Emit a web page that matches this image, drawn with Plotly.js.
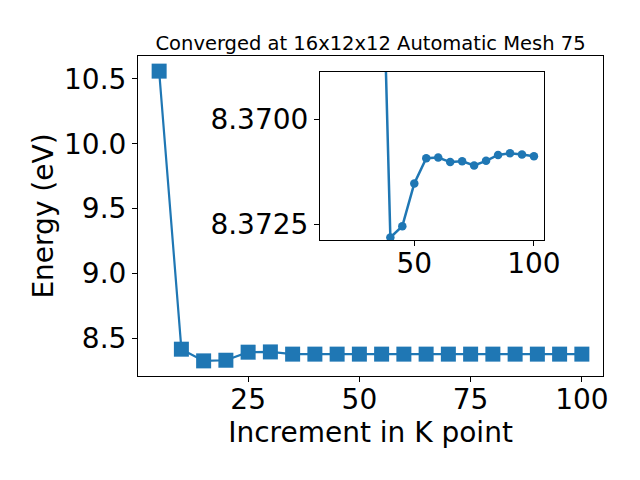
<!DOCTYPE html>
<html>
<head>
<meta charset="utf-8">
<script src="https://cdn.plot.ly/plotly-3.0.1.min.js"></script>
<style>html,body{margin:0;padding:0;background:#fff;}#chart{width:640px;height:480px;}</style>
</head>
<body>
<div id="chart"></div>
<script>
const kPoints = [5,10,15,20,25,30,35,40,45,50,55,60,65,70,75,80,85,90,95,100];
const energy = [10.559,8.418,8.328,8.333,8.395,8.397,8.380,8.380,8.380,8.380,8.380,8.380,8.380,8.380,8.380,8.380,8.380,8.380,8.380,8.380];
const insetK = [35,40,45,50,55,60,65,70,75,80,85,90,95,100];
const insetE = [8.3621,8.37282,8.37255,8.37153,8.37093,8.37091,8.37102,8.37100,8.37110,8.37099,8.37085,8.37081,8.37084,8.37088];
const mainXTicks = [25,50,75,100];
const mainYTicks = [8.5,9.0,9.5,10.0,10.5];
const insetXTicks = [50,100];
const insetYTicks = [8.3700,8.3725];
const titleText = 'Converged at 16x12x12 Automatic Mesh 75';

const blue = '#1f77b4';
const font = 'DejaVu Sans, sans-serif';

const traces = [
  {x: kPoints, y: energy, type: 'scatter', mode: 'lines+markers',
   line: {color: blue, width: 2.2}, marker: {symbol: 'square', size: 15, color: blue},
   xaxis: 'x', yaxis: 'y', showlegend: false},
  {x: insetK, y: insetE, type: 'scatter', mode: 'lines+markers',
   line: {color: blue, width: 2.5}, marker: {symbol: 'circle', size: 8.5, color: blue},
   xaxis: 'x2', yaxis: 'y2', showlegend: false}
];

const axCommon = {showline: true, linecolor: '#000', linewidth: 1, mirror: true,
  ticks: 'outside', ticklen: 5, tickwidth: 1, tickcolor: '#000', showgrid: false,
  zeroline: false, tickfont: {family: font, size: 28, color: '#000'}};

const layout = {
  width: 640, height: 480,
  margin: {l: 138, r: 37, t: 56, b: 104},
  paper_bgcolor: '#fff', plot_bgcolor: '#fff',
  title: {text: titleText, font: {family: font, size: 19.5, color: '#000'},
          x: 0.579, xanchor: 'center', y: 0.896, yanchor: 'bottom'},
  xaxis: Object.assign({}, axCommon, {range: [0.25, 104.75], tickmode: 'array', tickvals: mainXTicks,
    domain: [0, 1], ticklabelstandoff: -7,
    title: {text: 'Increment in K point', font: {family: font, size: 28, color: '#000'}, standoff: 4}}),
  yaxis: Object.assign({}, axCommon, {range: [8.2116, 10.6755], tickmode: 'array', tickvals: mainYTicks,
    tickformat: '.1f', domain: [0, 1],
    title: {text: 'Energy (eV)', font: {family: font, size: 28, color: '#000'}, standoff: 2}}),
  xaxis2: Object.assign({}, axCommon, {range: [10.6, 104.2], tickmode: 'array', tickvals: insetXTicks,
    domain: [0.3914, 0.8731], anchor: 'y2', ticklabelstandoff: -7}),
  yaxis2: Object.assign({}, axCommon, {range: [8.37288, 8.36887], tickmode: 'array', tickvals: insetYTicks,
    tickformat: '.4f', domain: [0.425, 0.95], anchor: 'x2'})
};

Plotly.newPlot('chart', traces, layout, {displayModeBar: false, staticPlot: true});
</script>
</body>
</html>
